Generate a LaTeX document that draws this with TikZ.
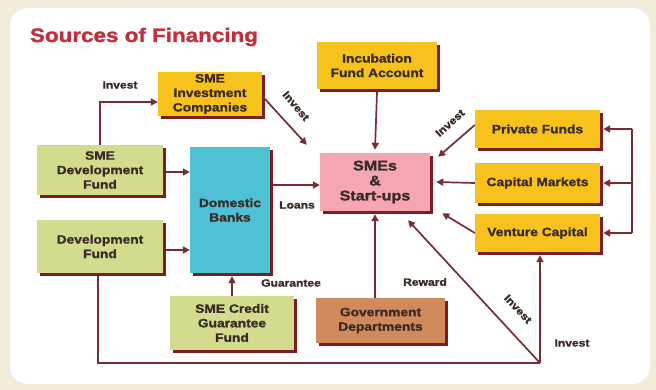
\documentclass[tikz,border=0pt]{standalone}
\usepackage{fontspec}
\setmainfont{Liberation Sans}[FakeStretch=1.15, BoldFeatures={FakeBold=1.5}]
\usetikzlibrary{arrows.meta}
\definecolor{bgout}{HTML}{F1EDDA}
\definecolor{titlec}{HTML}{C0303C}
\definecolor{yel}{HTML}{F8C21C}
\definecolor{grn}{HTML}{D3DB8D}
\definecolor{cyn}{HTML}{4EC2D4}
\definecolor{pnk}{HTML}{F5A6B0}
\definecolor{brn}{HTML}{D18A5C}
\definecolor{shd}{HTML}{7A1E24}
\definecolor{linec}{HTML}{7B2B36}
\definecolor{txt}{HTML}{3A2B26}
\tikzset{
  box/.style={inner sep=0pt, align=center, text=txt, font=\bfseries\fontsize{12}{14.5}\selectfont,
    preaction={fill=shd, transform canvas={shift={(3pt,-3pt)}}}},
  arr/.style={draw=linec, line width=1.7pt, -{Triangle[length=7pt,width=7pt]}},
  ln/.style={draw=linec, line width=1.7pt},
  lbl/.style={text=txt, font=\bfseries\fontsize{10.5}{12}\selectfont, inner sep=0pt}
}
\begin{document}
\begin{tikzpicture}[x=1pt,y=-1pt]
\useasboundingbox (0,0) rectangle (656,390);
\fill[bgout] (0,0) rectangle (656,390);
\fill[white, rounded corners=18pt] (10,8) rectangle (650,384);
\node[text=titlec, font=\bfseries\fontsize{19.5}{21}\selectfont, inner sep=0pt] (title) at (144,37) {Sources of Financing};

\node[box, fill=yel, minimum width=104pt, minimum height=44pt] (inv) at (210,94) {SME\\Investment\\Companies};
\node[box, fill=yel, minimum width=120pt, minimum height=47pt] (inc) at (377,65.5) {Incubation\\Fund Account};
\node[box, fill=yel, minimum width=125pt, minimum height=38pt] (pf) at (537.5,129) {Private Funds};
\node[box, fill=yel, minimum width=125pt, minimum height=40pt] (cm) at (537.5,183) {Capital Markets};
\node[box, fill=yel, minimum width=125pt, minimum height=38pt] (vc) at (537.5,233) {Venture Capital};
\node[box, fill=pnk, minimum width=110pt, minimum height=58pt, font=\bfseries\fontsize{14}{15}\selectfont] (sme) at (375,182) {SMEs\\\&\\Start-ups};
\node[box, fill=grn, minimum width=126pt, minimum height=50pt] (sdf) at (100,170) {SME\\Development\\Fund};
\node[box, fill=cyn, minimum width=80pt, minimum height=126pt] (bank) at (230,210) {Domestic\\Banks};
\node[box, fill=grn, minimum width=126pt, minimum height=53pt] (df) at (100,246.5) {Development\\Fund};
\node[box, fill=grn, minimum width=124pt, minimum height=54pt] (cgf) at (232,323) {SME Credit\\Guarantee\\Fund};
\node[box, fill=brn, minimum width=129pt, minimum height=45pt] (gov) at (380.5,320.5) {Government\\Departments};

% connectors
\draw[arr] (sdf.north) |- ([yshift=-8pt]inv.west);
\node[lbl] (l1) at (120,85) {Invest};
\draw[arr] ([yshift=-2pt]inv.east) -- ([xshift=-13pt,yshift=8pt]sme.north west);
\node[lbl, rotate=-50] (l2) at (296,106) {Invest};
\draw[arr] (inc.south) ++(0,-3pt) coordinate (incb) (incb) -- ([yshift=3pt]sme.north);
\draw[arr] ([yshift=4pt]pf.west) -- ([xshift=8pt,yshift=-4pt]sme.north east);
\node[lbl, rotate=42] (l3) at (450,123) {Invest};
\draw[arr] (cm.west) -- ([xshift=6pt]sme.east);
\draw[arr] (vc.west) -- ([xshift=12pt,yshift=-2pt]sme.south east);
\coordinate (bus) at (632,129);
\draw[ln] (bus) -- (bus |- vc.east);
\draw[arr] (bus) -- ([xshift=3pt]pf.east);
\draw[arr] (bus |- cm.east) -- ([xshift=3pt]cm.east);
\draw[arr] (bus |- vc.east) -- ([xshift=3pt]vc.east);
\draw[arr] ([yshift=-2pt]sdf.east) ++(3pt,0) coordinate (sdfe) (sdfe) -- ([yshift=-2pt]sdf.east -| bank.west);
\draw[arr] ([xshift=3pt,yshift=-3.5pt]df.east) -- ([yshift=-3.5pt]df.east -| bank.west);
\draw[arr] ([xshift=3pt,yshift=25pt]bank.east) -- ([yshift=25pt]bank.east -| sme.west);
\node[lbl] (l4) at (297,205) {Loans};
\draw[arr] (cgf.north) -- ([yshift=-3pt]cgf.north |- bank.south);
\node[lbl] (l5) at (291,283) {Guarantee};
\draw[arr] (sme.south |- gov.north) -- ([yshift=-3pt]sme.south);
\node[lbl] (l6) at (425,282) {Reward};
\coordinate (corner) at (540,363);
\draw[ln] (df.south) ++(-2pt,-3pt) coordinate (dfs) (dfs) |- (corner);
\draw[arr] (corner) -- ([yshift=-3pt]corner |- vc.south);
\draw[arr] (corner) -- ([xshift=33pt,yshift=-9pt]sme.south);
\node[lbl, rotate=-47] (l7) at (518,309) {Invest};
\node[lbl] (l8) at (572,343) {Invest};
\end{tikzpicture}
\end{document}
